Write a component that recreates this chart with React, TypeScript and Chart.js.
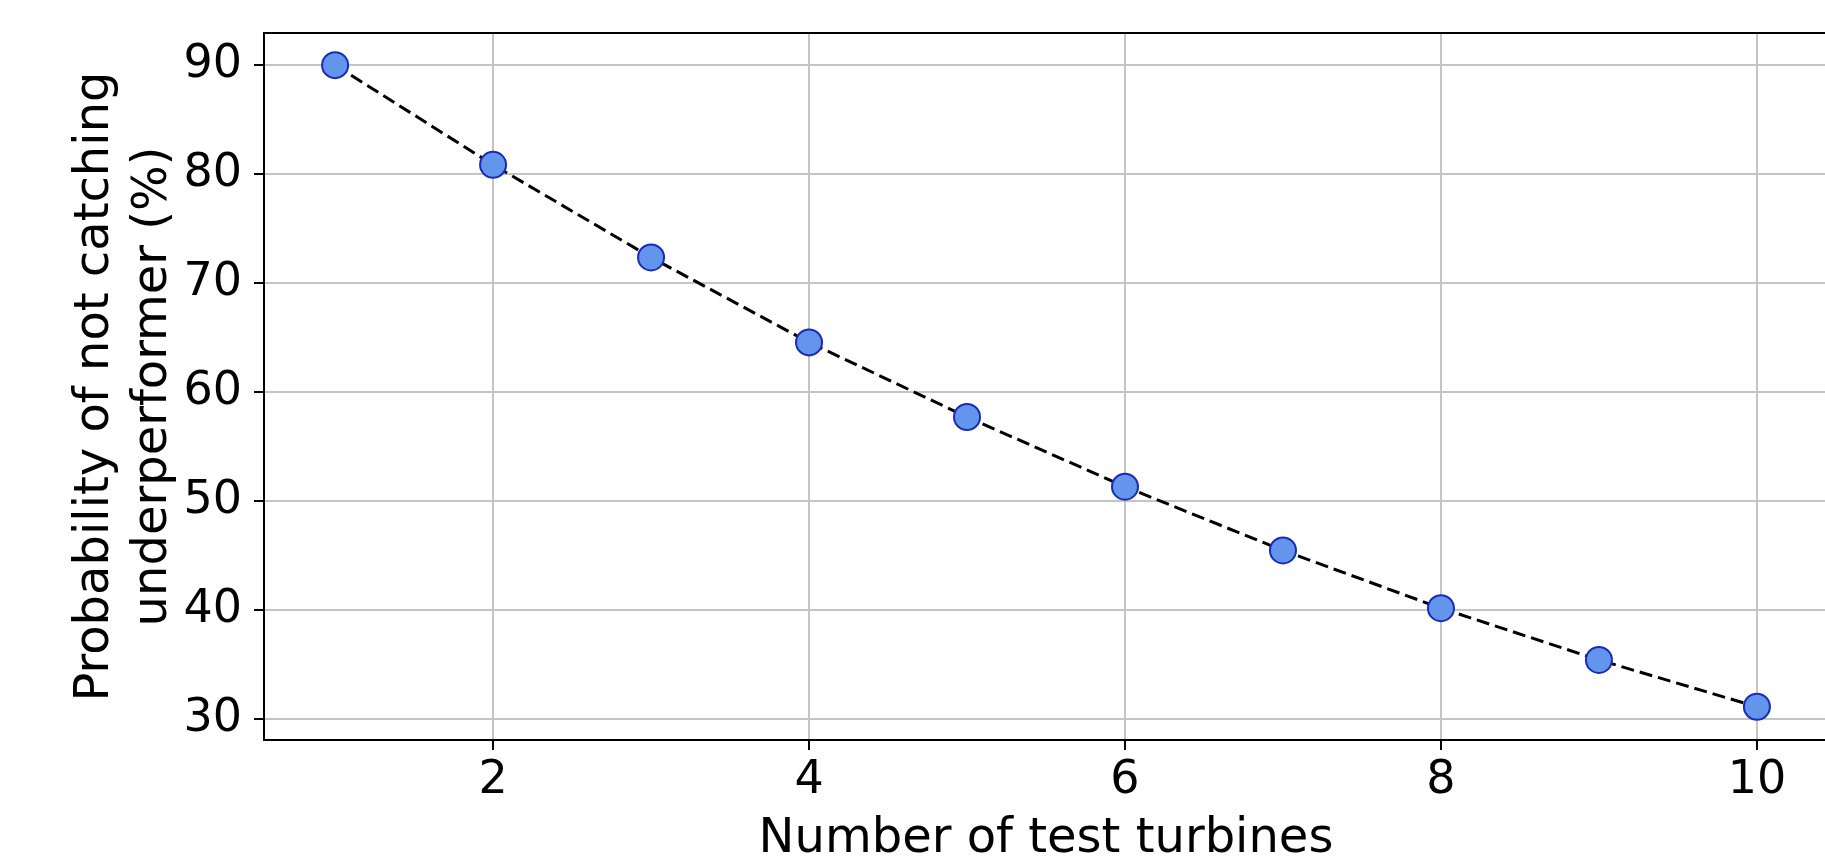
import React, { useEffect, useRef } from "react";
import { Chart, registerables } from "chart.js";

Chart.register(...registerables);

const turbines = [1, 2, 3, 4, 5, 6, 7, 8, 9, 10];
const probability = [90, 80.85, 72.35, 64.55, 57.7, 51.3, 45.45, 40.15, 35.4, 31.1];
const xTickValues = [2, 4, 6, 8, 10];
const yTickValues = [30, 40, 50, 60, 70, 80, 90];
const xTitle = "Number of test turbines";
const yTitle = ["Probability of not catching", "underperformer (%)"];

const FONT = "'DejaVu Sans', sans-serif";

const framePlugin = {
  id: "frame",
  afterDraw(chart: any) {
    const { ctx, chartArea } = chart;
    ctx.save();
    ctx.strokeStyle = "#000";
    ctx.lineWidth = 2;
    ctx.strokeRect(chartArea.left, chartArea.top, chartArea.right - chartArea.left, chartArea.bottom - chartArea.top);
    ctx.restore();
  },
};

const zeroPad = (s: any) => {
  s.paddingTop = 0;
  s.paddingBottom = 0;
  s.paddingLeft = 0;
  s.paddingRight = 0;
};

export default function App() {
  const ref = useRef<HTMLCanvasElement>(null);
  useEffect(() => {
    if (!ref.current) return;
    const chart = new Chart(ref.current, {
      type: "line",
      data: {
        datasets: [
          {
            data: turbines.map((x, i) => ({ x, y: probability[i] })),
            borderColor: "#000",
            borderWidth: 3,
            borderDash: [13, 6],
            pointRadius: 13,
            pointHoverRadius: 13,
            pointBackgroundColor: "#6495ED",
            pointBorderColor: "#1a2bb5",
            pointBorderWidth: 2,
            tension: 0,
            fill: false,
            clip: false,
          },
        ],
      },
      options: {
        animation: false,
        responsive: false,
        events: [],
        layout: { autoPadding: false, padding: { top: 33, right: 0, bottom: 0, left: 0 } },
        plugins: { legend: { display: false }, tooltip: { enabled: false } },
        scales: {
          x: {
            type: "linear",
            min: 0.55,
            max: 10.45,
            afterBuildTicks: (s: any) => {
              s.ticks = xTickValues.map((v) => ({ value: v }));
            },
            afterFit: (s: any) => {
              s.height = 116;
              zeroPad(s);
            },
            grid: { color: "#c4c4c4", lineWidth: 2, tickColor: "#000", tickLength: 10, tickWidth: 2 },
            border: { color: "#000", width: 2 },
            ticks: { color: "#000", font: { family: FONT, size: 46 }, padding: 3, maxRotation: 0 },
            title: {
              display: true,
              text: xTitle,
              color: "#000",
              font: { family: FONT, size: 48, lineHeight: 1 },
              padding: { top: 0, bottom: -8 },
            },
          },
          y: {
            type: "linear",
            min: 28.05,
            max: 92.95,
            afterBuildTicks: (s: any) => {
              s.ticks = yTickValues.map((v) => ({ value: v }));
            },
            afterFit: (s: any) => {
              s.width = 264;
              zeroPad(s);
            },
            grid: { color: "#c4c4c4", lineWidth: 2, tickColor: "#000", tickLength: 10, tickWidth: 2 },
            border: { color: "#000", width: 2 },
            ticks: { color: "#000", font: { family: FONT, size: 46 }, padding: 12 },
            title: {
              display: true,
              text: yTitle,
              color: "#000",
              font: { family: FONT, size: 48, lineHeight: 1.2 },
              padding: { top: 67, bottom: 0 },
            },
          },
        },
      },
      plugins: [framePlugin],
    } as any);
    return () => chart.destroy();
  }, []);
  return (
    <div style={{ position: "fixed", left: 0, top: 0, width: 1825, height: 856, overflow: "hidden", background: "#fff" }}>
      <canvas ref={ref} width={1828} height={856} style={{ display: "block", width: 1828, height: 856 }} />
    </div>
  );
}
